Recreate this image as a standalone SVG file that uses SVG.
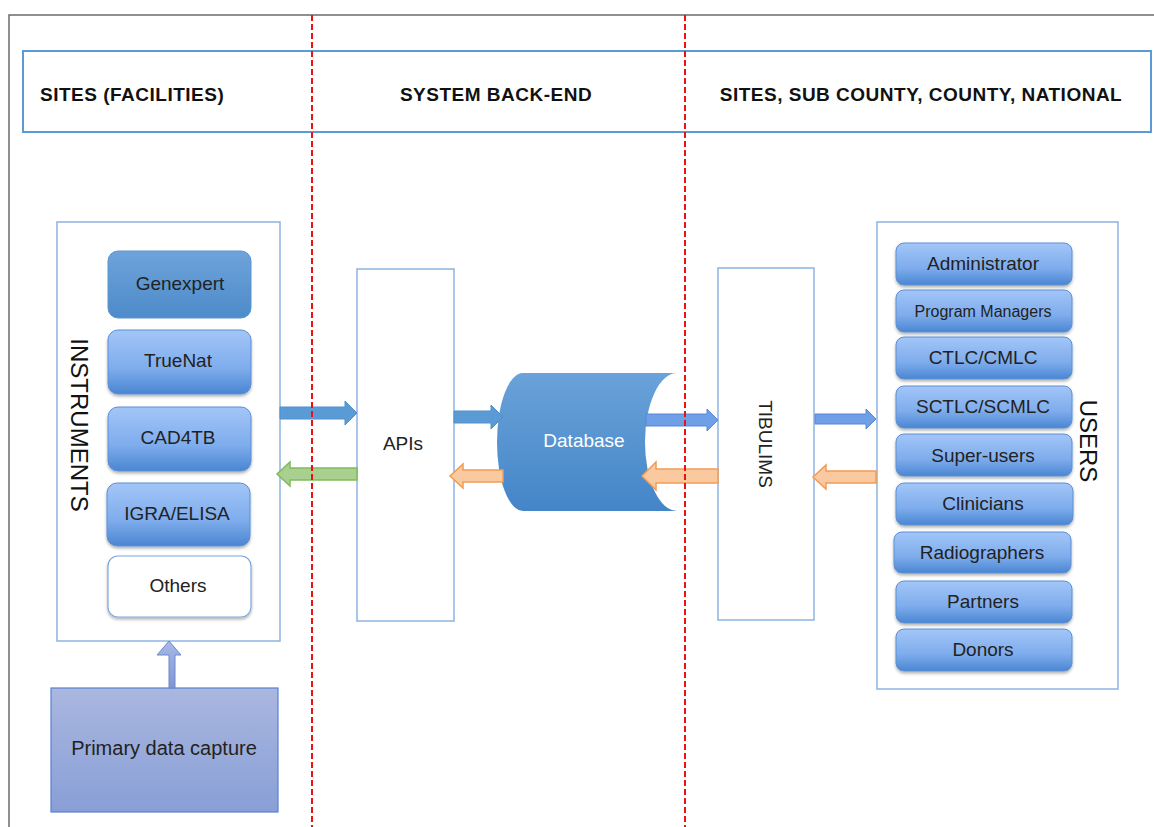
<svg xmlns="http://www.w3.org/2000/svg" width="1154" height="827" viewBox="0 0 1154 827">
<defs>
<linearGradient id="btn" x1="0" y1="0" x2="0" y2="1"><stop offset="0" stop-color="#a3c6f8"/><stop offset="0.6" stop-color="#7eacec"/><stop offset="1" stop-color="#4a86d2"/></linearGradient>
<linearGradient id="gx" x1="0" y1="0" x2="0" y2="1"><stop offset="0" stop-color="#6ea3da"/><stop offset="1" stop-color="#4d8bca"/></linearGradient>
<linearGradient id="db" x1="0" y1="0" x2="0" y2="1"><stop offset="0" stop-color="#6aa2d9"/><stop offset="1" stop-color="#4485c8"/></linearGradient>
<linearGradient id="pdc" x1="0" y1="0" x2="0" y2="1"><stop offset="0" stop-color="#aab7e0"/><stop offset="1" stop-color="#889fd6"/></linearGradient>
<linearGradient id="upa" x1="0" y1="0" x2="0" y2="1"><stop offset="0" stop-color="#a9b9e6"/><stop offset="1" stop-color="#7f97d4"/></linearGradient>
<filter id="sh" x="-10%" y="-10%" width="120%" height="130%"><feDropShadow dx="0" dy="2" stdDeviation="1.5" flood-color="#000" flood-opacity="0.3"/></filter>
</defs>
<style>
.hdr{font-family:"Liberation Sans",Arial,sans-serif;font-size:19px;font-weight:bold;fill:#111;letter-spacing:0.5px;}
.lbl{font-family:"Liberation Sans",Arial,sans-serif;font-size:19px;fill:#222;text-anchor:middle;}
.big{font-family:"Liberation Sans",Arial,sans-serif;font-size:24px;fill:#111;text-anchor:middle;}
.btn{fill:url(#btn);stroke:#5b8fd4;stroke-width:1;filter:url(#sh);}
.box{fill:#fff;stroke:#8db4e2;stroke-width:1.5;}
.red{stroke:#ee1111;stroke-width:2;stroke-dasharray:6 3;fill:none;}
.ab{fill:#5b9bd5;stroke:#4f8fcf;stroke-width:1;}
.ab2{fill:#6f9fe6;stroke:#5587d6;stroke-width:1;}
.ao{fill:#fbc9a0;stroke:#f19c55;stroke-width:1.5;}
.ag{fill:#a9d08e;stroke:#7fba5d;stroke-width:1.5;}
</style>
<rect width="1154" height="827" fill="#fff"/>
<path d="M9 827 V15 H1154" fill="none" stroke="#6b6b6b" stroke-width="1.5"/>
<g id="header">
<rect x="23" y="51" width="1128" height="81" fill="#fff" stroke="#5b9bd5" stroke-width="2"/>
<text class="hdr" x="40" y="101">SITES (FACILITIES)</text>
<text class="hdr" x="496" y="101" text-anchor="middle">SYSTEM BACK-END</text>
<text class="hdr" x="921" y="101" text-anchor="middle">SITES, SUB COUNTY, COUNTY, NATIONAL</text>
</g>
<g id="instruments">
<rect class="box" x="57" y="222" width="223" height="419"/>
<text class="big" transform="translate(71,425) rotate(90)">INSTRUMENTS</text>
<g id="genexpert"><rect x="108" y="251" width="143" height="67" rx="10" fill="url(#gx)" stroke="#5a95d0" stroke-width="1"/><text class="lbl" x="180" y="290">Genexpert</text></g>
<g id="truenat"><rect class="btn" x="108" y="330" width="143" height="64" rx="10"/><text class="lbl" x="178" y="367">TrueNat</text></g>
<g id="cad4tb"><rect class="btn" x="108" y="407" width="143" height="64" rx="10"/><text class="lbl" x="178" y="444">CAD4TB</text></g>
<g id="igra"><rect class="btn" x="107" y="483" width="143" height="63" rx="10"/><text class="lbl" x="177" y="520">IGRA/ELISA</text></g>
<g id="others"><rect x="108" y="556" width="143" height="61" rx="10" fill="#fff" stroke="#7aa7dc" stroke-width="1.2" filter="url(#sh)"/><text class="lbl" x="178" y="592">Others</text></g>
</g>
<g id="primary">
<rect x="51" y="688" width="227" height="124" fill="url(#pdc)" stroke="#5a7fcf" stroke-width="1.2"/>
<text class="lbl" x="164" y="755" style="font-size:20px">Primary data capture</text>
</g>
<g id="apis">
<rect class="box" x="357" y="269" width="97" height="352"/>
<text class="lbl" x="403" y="450">APIs</text>
</g>
<g id="database">
<path d="M523 373 H677 A32 69 0 0 0 677 511 H523 A26 69 0 0 1 523 373 Z" fill="url(#db)"/>
<text x="584" y="447" font-family="Liberation Sans, Arial, sans-serif" font-size="19" fill="#fff" text-anchor="middle">Database</text>
</g>
<g id="tibulims">
<rect class="box" x="718" y="268" width="96" height="352"/>
<text class="lbl" transform="translate(759,444) rotate(90)">TIBULIMS</text>
</g>
<g id="users">
<rect class="box" x="877" y="222" width="241" height="467"/>
<text class="big" transform="translate(1080,441) rotate(90)">USERS</text>
<g id="u1"><rect class="btn" x="896" y="243" width="176" height="42" rx="8"/><text class="lbl" x="983" y="270">Administrator</text></g>
<g id="u2"><rect class="btn" x="896" y="290" width="176" height="42" rx="8"/><text class="lbl" x="983" y="317" style="font-size:16px">Program Managers</text></g>
<g id="u3"><rect class="btn" x="896" y="337" width="176" height="42" rx="8"/><text class="lbl" x="983" y="364">CTLC/CMLC</text></g>
<g id="u4"><rect class="btn" x="896" y="386" width="176" height="42" rx="8"/><text class="lbl" x="983" y="413">SCTLC/SCMLC</text></g>
<g id="u5"><rect class="btn" x="896" y="434" width="176" height="42" rx="8"/><text class="lbl" x="983" y="462">Super-users</text></g>
<g id="u6"><rect class="btn" x="896" y="483" width="177" height="42" rx="8"/><text class="lbl" x="983" y="510">Clinicians</text></g>
<g id="u7"><rect class="btn" x="894" y="532" width="177" height="41" rx="8"/><text class="lbl" x="982" y="559">Radiographers</text></g>
<g id="u8"><rect class="btn" x="896" y="581" width="176" height="42" rx="8"/><text class="lbl" x="983" y="608">Partners</text></g>
<g id="u9"><rect class="btn" x="896" y="629" width="176" height="42" rx="8"/><text class="lbl" x="983" y="656">Donors</text></g>
</g>
<g id="connectors">
<path d="M169 688 V655 H157 L169 641 L181 655 H175 V688 Z" fill="url(#upa)" stroke="#6d87cf" stroke-width="1"/>
<path class="ab" d="M280 407 H345 V401 L357 413 L345 425 V419 H280 Z"/>
<path class="ag" d="M357 468 H290 V462 L277 474 L290 486 V480 H357 Z"/>
<path class="ab" d="M454 411 H491 V405 L503 417 L491 429 V423 H454 Z"/>
<path class="ao" d="M503 470 H463 V464 L450 476 L463 488 V482 H503 Z"/>
<path class="ab2" d="M646 414 H707 V409 L718 420 L707 431 V426 H646 Z"/>
<path class="ao" d="M718 469 H656 V462 L642 476 L656 490 V483 H718 Z"/>
<path class="ab2" d="M815 414 H866 V409 L876 419 L866 429 V424 H815 Z"/>
<path class="ao" d="M876 471 H826 V465 L813 477 L826 489 V483 H876 Z"/>
</g>
<line class="red" x1="312" y1="15" x2="312" y2="827"/>
<line class="red" x1="685" y1="15" x2="685" y2="827"/>
</svg>
